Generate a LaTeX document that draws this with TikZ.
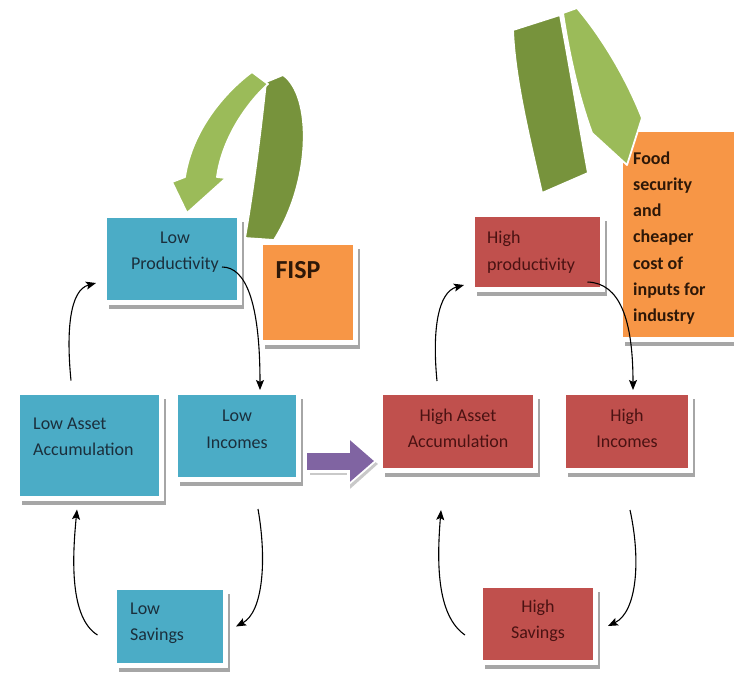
\documentclass[tikz,border=0pt]{standalone}
\usepackage{fontspec}
\setmainfont{Carlito}
\usetikzlibrary{shadows,calc,arrows.meta}
\definecolor{boxblue}{HTML}{4BACC6}
\definecolor{boxred}{HTML}{C0504D}
\definecolor{boxorange}{HTML}{F79646}
\definecolor{arrpurple}{HTML}{8064A2}
\definecolor{greenlight}{HTML}{9BBB59}
\definecolor{greendark}{HTML}{77933C}
\definecolor{txtblue}{HTML}{1B2F3C}
\definecolor{txtred}{HTML}{4A1212}
\definecolor{txtorange}{HTML}{2E1808}
\begin{document}
\begin{tikzpicture}[x=1pt,y=-1pt,
  panel/.style={draw=white, line width=5pt, rectangle, inner sep=0pt,
    drop shadow={shadow xshift=4pt, shadow yshift=-6pt, fill=black, opacity=0.35}},
  bluebox/.style={panel, fill=boxblue},
  redbox/.style={panel, fill=boxred},
  orangebox/.style={panel, fill=boxorange},
  lbl/.style={inner sep=0pt, font=\fontsize{18}{26.5}\selectfont},
  bluetxt/.style={lbl, text=txtblue},
  redtxt/.style={lbl, text=txtred},
  link/.style={draw=black, line width=1.1pt, -{Stealth[length=10pt,width=8pt,inset=2pt]}},
  ribbon/.style={draw=white, line width=1.8pt, line join=round}
]
\fill[white] (0,0) rectangle (734,673);
\clip (0,0) rectangle (734,673);

% left green ribbon arrow
\path[ribbon, fill=greendark] (245,238) .. controls (255,180) and (262,120) .. (266,82)
  -- (283,75) .. controls (312,95) and (312,180) .. (274,240) -- cycle;
\path[ribbon, fill=greenlight] (252,72) .. controls (225,92) and (192,130) .. (185,177)
  -- (172,182) -- (187,213) -- (226,178) -- (217,177)
  .. controls (222,140) and (245,105) .. (268,84) -- cycle;

% boxes
\node[bluebox, minimum width=135pt, minimum height=87pt] (lp) at (172,259) {};
\node[orangebox, minimum width=95pt, minimum height=100pt] (fisp) at (308,292.5) {};
\node[bluebox, minimum width=144pt, minimum height=106pt] (la) at (89.5,445.5) {};
\node[bluebox, minimum width=123pt, minimum height=87pt] (li) at (237,436) {};
\node[bluebox, minimum width=111pt, minimum height=78pt] (ls) at (170,626.5) {};
\node[redbox, minimum width=130pt, minimum height=75pt] (hp) at (537.5,252) {};
\node[orangebox, minimum width=149.5pt, minimum height=210pt] (food) at (695.25,234.5) {};
\node[redbox, minimum width=155pt, minimum height=78pt] (ha) at (458,431.5) {};
\node[redbox, minimum width=127pt, minimum height=78pt] (hi) at (627,431.5) {};
\node[redbox, minimum width=115pt, minimum height=77pt] (hs) at (538,624) {};

% right green ribbon arrow
\path[ribbon, fill=greendark] (513,30) -- (560,15) .. controls (572,80) and (580,130) .. (588,173)
  -- (542,193) .. controls (530,140) and (515,80) .. (513,30) -- cycle;
\path[ribbon, fill=greenlight] (563,13) -- (577,8) .. controls (600,35) and (625,75) .. (642,118)
  -- (627,165) -- (592,133) .. controls (580,100) and (570,60) .. (563,13) -- cycle;

% texts
\node[bluetxt, align=center] (lpT) at (175,252) {Low\\Productivity};
\node[lbl, text=txtorange, font=\fontsize{26}{30}\selectfont\bfseries] (fispT) at (298,270) {FISP};
\node[bluetxt, align=left, anchor=west] (laT) at (33,437) {Low Asset\\Accumulation};
\node[bluetxt, align=center] (liT) at (237,429.5) {Low\\Incomes};
\node[bluetxt, align=left, anchor=west] (lsT) at (130,623.5) {Low\\Savings};
\node[redtxt, align=left, anchor=west] (hpT) at (487,252) {High\\productivity};
\node[lbl, text=txtorange, align=left, anchor=west, font=\fontsize{18}{26.3}\selectfont\bfseries] (foodT) at (633,238)
  {Food\\security\\and\\cheaper\\cost of\\inputs for\\industry};
\node[redtxt, align=center] (haT) at (458,428.5) {High Asset\\Accumulation};
\node[redtxt, align=center] (hiT) at (627,428.5) {High\\Incomes};
\node[redtxt, align=center] (hsT) at (538,621) {High\\Savings};

% purple transition arrow
\draw[black!35, opacity=0.6, line width=22pt, -{Triangle[length=28pt,width=48pt]}]
  ([xshift=9pt,yshift=-28pt]li.east) -- ([xshift=0pt,yshift=-32.5pt]ha.west);
\draw[white, line width=24pt, -{Triangle[length=30pt,width=50pt]}]
  ([xshift=4pt,yshift=-25pt]li.east) -- ([xshift=-1pt,yshift=-29.5pt]ha.west);
\draw[arrpurple, line width=17pt, -{Triangle[length=24pt,width=40pt]}]
  ([xshift=6pt,yshift=-25pt]li.east) -- ([xshift=-4pt,yshift=-29.5pt]ha.west);

% left cycle
\draw[link] ($(lp.center)+(50,8)$) .. controls (245,267) and (260,300) .. ($(li.north)+(23,0)$);
\draw[link] ($(li.south)+(21,27)$) .. controls (267,560) and (263,612) .. ($(ls.east)+(8,0)$);
\draw[link] ($(ls.west)+(-14.5,8.5)$) .. controls (70,618) and (72,560) .. ($(la.south)+(-12.5,8.5)$);
\draw[link] ($(la.north)+(-18.5,-9.5)$) .. controls (66,330) and (70,290) .. ($(lp.west)+(-6,24)$);

% right cycle
\draw[link] ($(hp.center)+(50,30)$) .. controls (620,283) and (633,320) .. ($(hi.north)+(6,0)$);
\draw[link] ($(hi.south)+(3,37)$) .. controls (641,560) and (637,612) .. ($(hs.east)+(10,2)$);
\draw[link] ($(hs.west)+(-13,11)$) .. controls (436,615) and (437,560) .. ($(ha.south)+(-17,37)$);
\draw[link] ($(ha.north)+(-21,-9)$) .. controls (432,330) and (438,292) .. ($(hp.west)+(-6,33)$);
\end{tikzpicture}
\end{document}
